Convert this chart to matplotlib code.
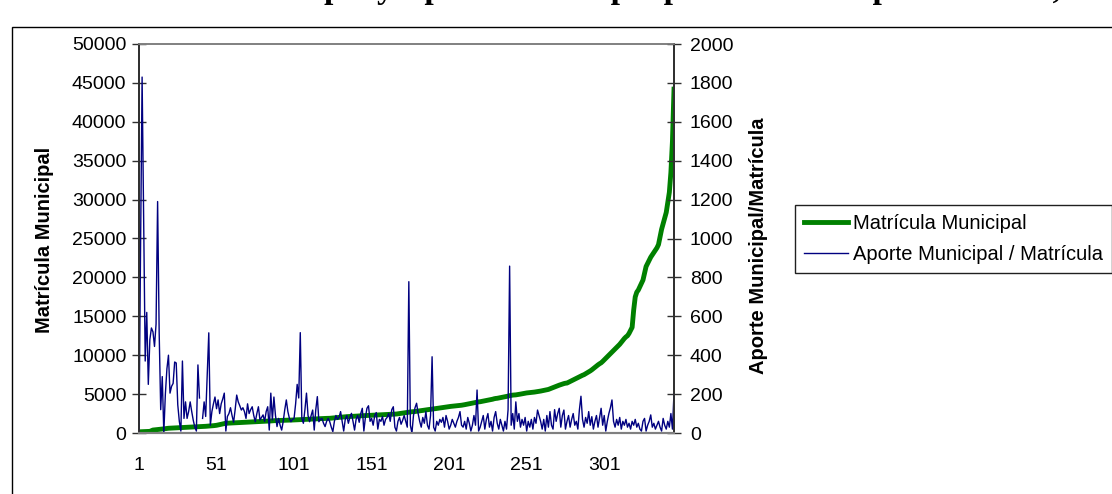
import numpy as np
import matplotlib.pyplot as plt
from matplotlib.patches import Rectangle

plt.rcParams['font.family'] = ['Liberation Sans', 'DejaVu Sans']

# Matrícula municipal por comuna (ordenada de menor a mayor), eje izquierdo
matricula = [
    150, 160, 170, 180, 190, 200, 200, 210, 300, 380,
    400, 420, 440, 460, 480, 500, 530, 560, 600, 610,
    620, 630, 640, 650, 660, 670, 680, 690, 695, 700,
    710, 720, 730, 740, 750, 760, 770, 780, 790, 800,
    810, 820, 840, 860, 880, 900, 910, 920, 940, 960,
    990, 1030, 1080, 1120, 1170, 1210, 1250, 1260, 1270, 1280,
    1290, 1300, 1310, 1320, 1330, 1340, 1350, 1355, 1360, 1370,
    1380, 1390, 1400, 1410, 1420, 1430, 1440, 1450, 1460, 1470,
    1480, 1490, 1500, 1520, 1540, 1550, 1570, 1580, 1590, 1600,
    1605, 1610, 1620, 1630, 1635, 1640, 1650, 1655, 1660, 1670,
    1680, 1690, 1700, 1710, 1720, 1730, 1740, 1750, 1760, 1770,
    1780, 1790, 1800, 1810, 1820, 1830, 1840, 1850, 1860, 1865,
    1870, 1880, 1885, 1890, 1910, 1930, 1950, 1970, 1990, 2010,
    2030, 2050, 2070, 2090, 2100, 2110, 2120, 2130, 2140, 2150,
    2160, 2180, 2200, 2210, 2220, 2230, 2240, 2250, 2260, 2270,
    2280, 2290, 2300, 2310, 2320, 2330, 2340, 2350, 2360, 2370,
    2380, 2390, 2400, 2410, 2420, 2430, 2440, 2470, 2500, 2530,
    2560, 2590, 2620, 2650, 2680, 2710, 2730, 2740, 2760, 2790,
    2820, 2850, 2880, 2910, 2940, 2970, 3000, 3020, 3040, 3070,
    3100, 3130, 3160, 3190, 3220, 3250, 3280, 3310, 3340, 3380,
    3400, 3420, 3440, 3460, 3480, 3500, 3520, 3540, 3570, 3600,
    3640, 3680, 3720, 3760, 3800, 3840, 3880, 3920, 3960, 4000,
    4020, 4060, 4100, 4140, 4180, 4220, 4260, 4300, 4340, 4400,
    4440, 4460, 4500, 4540, 4580, 4620, 4660, 4700, 4740, 4800,
    4840, 4870, 4880, 4900, 4930, 4960, 5000, 5040, 5080, 5120,
    5150, 5170, 5180, 5200, 5230, 5260, 5290, 5320, 5350, 5390,
    5430, 5470, 5510, 5550, 5600, 5680, 5760, 5840, 5920, 6000,
    6080, 6150, 6220, 6290, 6350, 6400, 6420, 6520, 6620, 6720,
    6820, 6920, 7020, 7120, 7220, 7320, 7420, 7500, 7620, 7740,
    7860, 7980, 8120, 8280, 8440, 8600, 8760, 8900, 9020, 9200,
    9400, 9600, 9800, 10000, 10200, 10400, 10600, 10800, 11000, 11190,
    11400, 11650, 11900, 12150, 12350, 12500, 12800, 13200, 13580, 15800,
    17490, 18100, 18380, 18800, 19200, 19660, 20500, 21400, 21800, 22200,
    22600, 22910, 23200, 23500, 23800, 24220, 25200, 26180, 26900, 27600,
    28350, 29600, 30940, 33500, 37500, 44200,
]

# Aporte municipal por alumno, eje derecho (nan = comuna sin dato)
aporte = [
    0, 950, 1830, 1080, 370, 620, 250, 480, 540, 520,
    445, 560, 1190, 520, 120, 290, 0, 200, 330, 400,
    205, 240, 255, 365, 360, 145, 60, 10, 370, 75,
    160, 75, 110, 160, 110, 65, 30, 10, 350, 180,
    np.nan, 75, 160, 85, 300, 515, 40, 110, 150, 185,
    125, 170, 100, 150, 175, 205, 10, 85, 100, 130,
    90, 55, 120, 195, 160, 140, 118, 130, 110, 75,
    150, 100, 120, 135, 90, 58, 100, 135, 67, 80,
    93, 60, 110, 135, 15, 205, 67, 185, 90, 33,
    75, 40, 15, 60, 120, 170, 110, 75, 58, 70,
    75, 150, 250, 180, 516, 75, 50, 120, 205, 90,
    58, 90, 118, 15, 120, 187, 58, 70, 75, 50,
    33, 60, 75, 58, 30, 7, 60, 90, 70, 80,
    110, 60, 10, 70, 90, 50, 80, 101, 60, 15,
    70, 90, 55, 100, 127, 10, 80, 127, 140, 60,
    75, 40, 90, 105, 20, 70, 60, 85, 40, 70,
    80, 100, 60, 120, 135, 30, 10, 60, 80, 45,
    65, 90, 60, 30, 778, 40, 0, 90, 130, 153,
    100, 60, 30, 80, 50, 110, 40, 20, 90, 392,
    30, 10, 60, 40, 70, 55, 80, 30, 90, 60,
    20, 40, 70, 50, 30, 60, 80, 110, 40, 30,
    60, 20, 80, 50, 10, 40, 90, 40, 221, 10,
    30, 60, 90, 20, 70, 100, 30, 60, 10, 80,
    110, 50, 20, 70, 40, 10, 60, 20, 120, 858,
    40, 100, 20, 160, 60, 100, 30, 70, 40, 80,
    10, 60, 30, 70, 20, 80, 50, 118, 90, 60,
    20, 70, 10, 90, 30, 110, 40, 20, 120, 60,
    100, 127, 30, 90, 118, 20, 60, 90, 30, 70,
    100, 40, 60, 20, 120, 189, 70, 30, 80, 50,
    110, 40, 84, 20, 60, 90, 30, 80, 127, 40,
    90, 10, 60, 100, 130, 170, 60, 30, 70, 40,
    80, 20, 60, 40, 70, 30, 50, 20, 60, 40,
    70, 30, 50, 20, 10, 60, 75, 10, 40, 60,
    93, 30, 50, 20, 40, 60, 30, 10, 75, 40,
    20, 60, 30, 100, 20, 205,
]

x_ticks = [1, 51, 101, 151, 201, 251, 301]
left_ticks = list(range(0, 50001, 5000))
right_ticks = list(range(0, 2001, 200))

titulo = "Matrícula Municipal y Aporte Municipal por Matrícula por Comuna, País"

W, H = 1112, 494
x = np.arange(1, len(matricula) + 1)

fig = plt.figure(figsize=(W / 100, H / 100), dpi=100)
ax = fig.add_axes([139 / W, 1 - 433 / H, (674 - 139) / W, (433 - 44) / H])
ax2 = ax.twinx()

l1, = ax.plot(x, matricula, color='#008000', lw=3.5, solid_joinstyle='round',
              label='Matrícula Municipal')
l2, = ax2.plot(x, aporte, color='#000080', lw=1.0, label='Aporte Municipal / Matrícula')

ax.set_xlim(1, len(matricula))
ax.set_ylim(0, 50000)
ax2.set_ylim(0, 2000)
ax.set_yticks(left_ticks)
ax2.set_yticks(right_ticks)
ax.set_xticks(x_ticks)
ax.set_xticklabels([str(t) for t in x_ticks])

ax.tick_params(axis='x', length=0, pad=17, labelsize=14)
ax.tick_params(axis='y', direction='inout', length=10, width=1, color='#303030',
               pad=4, labelsize=14)
ax2.tick_params(axis='y', direction='inout', length=10, width=1, color='#303030',
                pad=6.5, labelsize=14)

for a in (ax, ax2):
    a.spines['top'].set_color('#808080')
    a.spines['bottom'].set_color('#808080')
    a.spines['top'].set_linewidth(1.2)
    a.spines['bottom'].set_linewidth(1.5)
    a.spines['left'].set_color('#303030')
    a.spines['right'].set_color('#303030')
    a.spines['left'].set_linewidth(1.3)
    a.spines['right'].set_linewidth(1.3)

fig.text(45 / W, 1 - 240 / H, 'Matrícula Municipal', rotation=90, ha='center',
         va='center', fontsize=14.5, fontweight='bold')
fig.text(758 / W, 1 - 246 / H, 'Aporte Municipal/Matrícula', rotation=90, ha='center',
         va='center', fontsize=14.5, fontweight='bold')

leg = fig.legend([l1, l2], [l1.get_label(), l2.get_label()], loc='upper left',
                 bbox_to_anchor=(795 / W, 1 - 205 / H), fontsize=14.5,
                 frameon=True, fancybox=False, edgecolor='#202020', framealpha=1,
                 borderpad=0.45, handlelength=2.2, handletextpad=0.25,
                 labelspacing=0.6, borderaxespad=0)
leg.get_frame().set_linewidth(1.0)

# marco del área del gráfico
fig.add_artist(Rectangle((12 / W, -0.05), 1.1, 1 - 27 / H + 0.05,
                         transform=fig.transFigure, fill=False,
                         edgecolor='black', lw=1.0))

# título, cortado por el borde superior como en el original
fig.text(600 / W, 1 + 2 / H, titulo, ha='center', va='baseline', fontsize=24,
         fontweight='bold', family='Liberation Serif')

fig.savefig('out.png', dpi=100)
